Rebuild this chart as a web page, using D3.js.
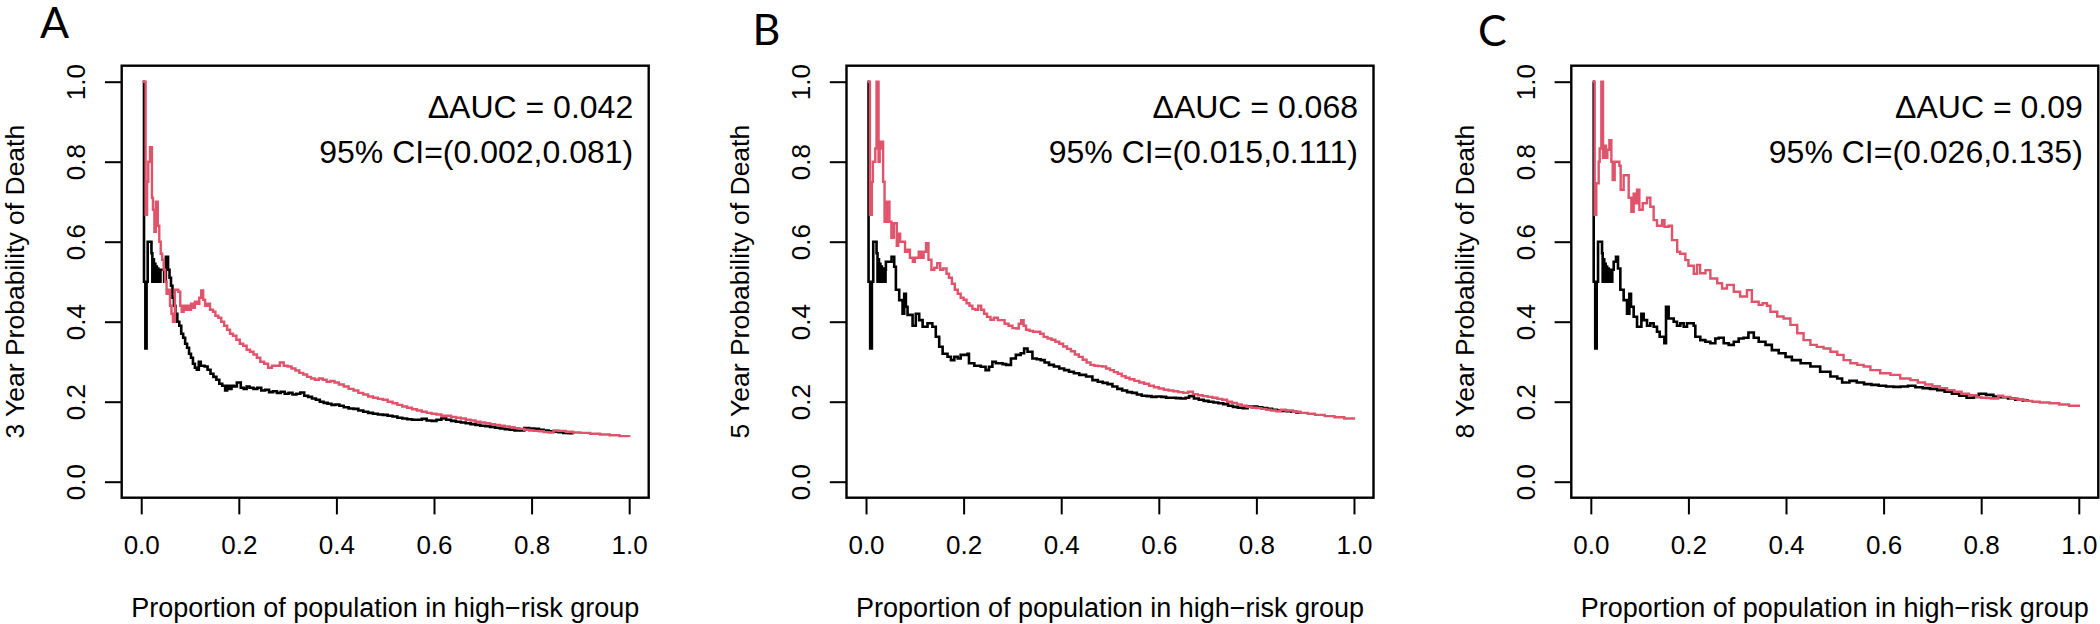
<!DOCTYPE html>
<html><head><meta charset="utf-8">
<script src="https://cdn.jsdelivr.net/npm/d3@7"></script>
<style>body{margin:0;background:#fff} svg{display:block}</style>
</head><body>
<svg id="c" width="2100" height="624"></svg>
<script>
// ---------- data ----------
const panelLetters = ["A", "B", "C"];
const yTitles = ["3 Year Probability of Death", "5 Year Probability of Death", "8 Year Probability of Death"];
const xTitle = "Proportion of population in high\u2212risk group";
const deltaAUC = ["0.042", "0.068", "0.09"];
const ciTexts = ["95% CI=(0.002,0.081)", "95% CI=(0.015,0.111)", "95% CI=(0.026,0.135)"];
const xTicks = [0, 0.2, 0.4, 0.6, 0.8, 1.0];
const yTicks = [0, 0.2, 0.4, 0.6, 0.8, 1.0];

const blackA = [[0.003,1.0],[0.0057,0.5],[0.0085,0.333],[0.011,0.5],[0.0133,0.6],[0.021,0.571],[0.0228,0.5],[0.0245,0.556],[0.026,0.5],[0.0275,0.545],[0.029,0.5],[0.0305,0.538],[0.032,0.5],[0.0335,0.533],[0.035,0.5],[0.0365,0.53],[0.038,0.5],[0.0395,0.53],[0.047,0.5],[0.0505,0.5625],[0.055,0.53],[0.058,0.51],[0.061,0.49],[0.064,0.46],[0.067,0.44],[0.070,0.42],[0.074,0.40],[0.078,0.39],[0.082,0.37],[0.086,0.36],[0.090,0.345],[0.094,0.335],[0.098,0.32],[0.102,0.31],[0.106,0.295],[0.110,0.285],[0.114,0.28],[0.118,0.30],[0.122,0.29],[0.130,0.288],[0.136,0.28],[0.142,0.27],[0.148,0.262],[0.154,0.255],[0.160,0.245],[0.166,0.24],[0.172,0.228],[0.176,0.24],[0.180,0.232],[0.185,0.24],[0.190,0.238],[0.196,0.248],[0.204,0.235],[0.210,0.232],[0.216,0.238],[0.222,0.235],[0.230,0.232],[0.238,0.235],[0.246,0.228],[0.254,0.23],[0.262,0.224],[0.270,0.226],[0.278,0.222],[0.286,0.225],[0.294,0.22],[0.302,0.222],[0.310,0.218],[0.318,0.22],[0.326,0.223],[0.334,0.215],[0.342,0.212],[0.350,0.208],[0.358,0.205],[0.366,0.2],[0.374,0.197],[0.382,0.195],[0.390,0.192],[0.398,0.193],[0.406,0.19],[0.415,0.186],[0.425,0.183],[0.435,0.182],[0.445,0.178],[0.455,0.175],[0.465,0.172],[0.475,0.17],[0.485,0.168],[0.495,0.167],[0.505,0.165],[0.515,0.163],[0.525,0.16],[0.535,0.158],[0.545,0.156],[0.555,0.155],[0.565,0.155],[0.575,0.157],[0.585,0.153],[0.595,0.152],[0.605,0.155],[0.615,0.158],[0.625,0.155],[0.635,0.152],[0.645,0.15],[0.655,0.148],[0.665,0.146],[0.675,0.144],[0.685,0.142],[0.695,0.14],[0.705,0.139],[0.715,0.137],[0.725,0.135],[0.735,0.133],[0.745,0.131],[0.755,0.13],[0.765,0.128],[0.775,0.128],[0.785,0.134],[0.795,0.133],[0.805,0.132],[0.815,0.13],[0.825,0.128],[0.835,0.126],[0.845,0.125],[0.855,0.124],[0.865,0.122],[0.875,0.121],[0.886,0.12]];
const redA = [[0.003,1.0],[0.009,0.667],[0.012,0.75],[0.0145,0.80],[0.018,0.836],[0.022,0.71],[0.024,0.68],[0.027,0.625],[0.030,0.70],[0.034,0.64],[0.037,0.60],[0.040,0.57],[0.043,0.555],[0.046,0.53],[0.049,0.50],[0.052,0.47],[0.056,0.48],[0.059,0.44],[0.062,0.42],[0.065,0.40],[0.069,0.48],[0.076,0.475],[0.080,0.44],[0.083,0.425],[0.087,0.44],[0.090,0.43],[0.094,0.44],[0.098,0.43],[0.102,0.445],[0.106,0.435],[0.110,0.45],[0.115,0.445],[0.119,0.46],[0.123,0.478],[0.127,0.455],[0.131,0.44],[0.136,0.445],[0.141,0.43],[0.147,0.425],[0.152,0.415],[0.158,0.41],[0.164,0.40],[0.170,0.39],[0.176,0.38],[0.182,0.37],[0.188,0.365],[0.195,0.355],[0.202,0.345],[0.209,0.34],[0.216,0.33],[0.223,0.325],[0.230,0.318],[0.237,0.31],[0.244,0.30],[0.252,0.295],[0.260,0.285],[0.268,0.29],[0.276,0.29],[0.284,0.298],[0.292,0.29],[0.300,0.288],[0.308,0.283],[0.316,0.278],[0.324,0.272],[0.332,0.268],[0.340,0.262],[0.348,0.258],[0.356,0.255],[0.364,0.258],[0.372,0.255],[0.380,0.25],[0.388,0.252],[0.396,0.248],[0.405,0.243],[0.415,0.238],[0.425,0.232],[0.435,0.228],[0.445,0.222],[0.455,0.218],[0.465,0.213],[0.475,0.21],[0.485,0.207],[0.495,0.205],[0.505,0.2],[0.515,0.196],[0.525,0.192],[0.535,0.188],[0.545,0.185],[0.555,0.181],[0.565,0.178],[0.575,0.175],[0.585,0.172],[0.595,0.17],[0.605,0.168],[0.615,0.165],[0.625,0.165],[0.635,0.162],[0.645,0.16],[0.655,0.158],[0.665,0.155],[0.675,0.153],[0.685,0.15],[0.695,0.148],[0.705,0.146],[0.715,0.144],[0.725,0.142],[0.735,0.14],[0.745,0.138],[0.755,0.136],[0.765,0.134],[0.775,0.132],[0.785,0.13],[0.795,0.128],[0.805,0.127],[0.815,0.126],[0.825,0.124],[0.835,0.123],[0.845,0.128],[0.855,0.127],[0.87,0.125],[0.885,0.123],[0.9,0.122],[0.92,0.12],[0.94,0.118],[0.96,0.116],[0.98,0.114],[1.0,0.112]];

const blackB = [[0.003,1.0],[0.0052,0.5],[0.0085,0.333],[0.012,0.5],[0.0148,0.6],[0.0216,0.571],[0.0236,0.5],[0.025,0.556],[0.0265,0.5],[0.028,0.545],[0.0295,0.5],[0.031,0.538],[0.0325,0.5],[0.034,0.533],[0.0355,0.5],[0.037,0.53],[0.0385,0.5],[0.040,0.53],[0.0407,0.55],[0.0523,0.5625],[0.0578,0.5375],[0.0612,0.48],[0.068,0.454],[0.0749,0.42],[0.0783,0.47],[0.0817,0.4375],[0.0851,0.417],[0.0954,0.39],[0.102,0.42],[0.109,0.404],[0.116,0.3875],[0.126,0.396],[0.136,0.3875],[0.143,0.3625],[0.150,0.3375],[0.157,0.32],[0.167,0.3125],[0.174,0.304],[0.181,0.3125],[0.188,0.308],[0.194,0.317],[0.208,0.32],[0.211,0.296],[0.222,0.29],[0.235,0.2875],[0.245,0.279],[0.252,0.2875],[0.259,0.3],[0.266,0.296],[0.273,0.296],[0.280,0.294],[0.287,0.292],[0.297,0.308],[0.307,0.317],[0.317,0.321],[0.324,0.333],[0.331,0.325],[0.341,0.308],[0.350,0.306],[0.358,0.304],[0.366,0.298],[0.375,0.292],[0.385,0.288],[0.396,0.283],[0.406,0.279],[0.416,0.275],[0.426,0.271],[0.437,0.267],[0.451,0.263],[0.464,0.254],[0.475,0.25],[0.485,0.247],[0.495,0.244],[0.505,0.238],[0.515,0.232],[0.525,0.228],[0.535,0.224],[0.545,0.222],[0.555,0.218],[0.565,0.215],[0.575,0.214],[0.585,0.212],[0.595,0.213],[0.605,0.212],[0.615,0.21],[0.625,0.21],[0.635,0.209],[0.645,0.208],[0.655,0.21],[0.662,0.214],[0.672,0.208],[0.682,0.205],[0.692,0.202],[0.702,0.2],[0.712,0.198],[0.722,0.196],[0.732,0.194],[0.742,0.19],[0.752,0.187],[0.762,0.185],[0.772,0.184],[0.782,0.188],[0.792,0.188],[0.802,0.186],[0.812,0.184],[0.822,0.182],[0.832,0.18],[0.842,0.178],[0.852,0.177],[0.862,0.176],[0.872,0.175],[0.882,0.173],[0.89,0.172]];
const redB = [[0.003,1.0],[0.008,0.667],[0.012,0.75],[0.014,0.8],[0.019,0.833],[0.0216,1.0],[0.0257,0.8],[0.028,0.833],[0.0305,0.85],[0.035,0.75],[0.038,0.65],[0.043,0.70],[0.048,0.65],[0.052,0.61],[0.057,0.646],[0.063,0.59],[0.066,0.62],[0.070,0.60],[0.076,0.60],[0.080,0.575],[0.085,0.58],[0.090,0.56],[0.096,0.55],[0.100,0.56],[0.108,0.575],[0.113,0.56],[0.118,0.575],[0.123,0.596],[0.128,0.555],[0.134,0.53],[0.140,0.535],[0.146,0.546],[0.152,0.53],[0.158,0.533],[0.165,0.52],[0.170,0.51],[0.176,0.495],[0.182,0.48],[0.188,0.47],[0.194,0.46],[0.200,0.455],[0.206,0.446],[0.212,0.44],[0.218,0.432],[0.224,0.43],[0.230,0.44],[0.236,0.43],[0.242,0.42],[0.248,0.412],[0.255,0.405],[0.262,0.41],[0.270,0.404],[0.277,0.404],[0.284,0.395],[0.292,0.39],[0.300,0.384],[0.308,0.383],[0.313,0.395],[0.318,0.404],[0.323,0.39],[0.328,0.38],[0.335,0.377],[0.342,0.375],[0.350,0.375],[0.357,0.37],[0.364,0.362],[0.372,0.358],[0.380,0.355],[0.388,0.35],[0.396,0.345],[0.404,0.338],[0.412,0.332],[0.420,0.326],[0.428,0.318],[0.436,0.312],[0.444,0.305],[0.452,0.298],[0.460,0.292],[0.468,0.29],[0.476,0.289],[0.484,0.288],[0.492,0.283],[0.500,0.279],[0.508,0.274],[0.516,0.27],[0.524,0.264],[0.532,0.26],[0.540,0.256],[0.550,0.252],[0.560,0.248],[0.570,0.245],[0.580,0.24],[0.590,0.236],[0.600,0.233],[0.610,0.23],[0.620,0.228],[0.630,0.226],[0.640,0.224],[0.650,0.222],[0.660,0.225],[0.670,0.219],[0.680,0.216],[0.690,0.214],[0.700,0.212],[0.710,0.21],[0.720,0.207],[0.730,0.205],[0.740,0.2],[0.750,0.197],[0.760,0.193],[0.770,0.19],[0.780,0.187],[0.790,0.185],[0.800,0.184],[0.810,0.182],[0.820,0.18],[0.830,0.178],[0.840,0.176],[0.850,0.18],[0.860,0.178],[0.875,0.175],[0.890,0.172],[0.905,0.17],[0.920,0.167],[0.940,0.164],[0.960,0.161],[0.980,0.158],[1.0,0.155]];

const blackC = [[0.0038,1.0],[0.0059,0.5],[0.009,0.333],[0.012,0.5],[0.0148,0.6],[0.023,0.571],[0.0243,0.5],[0.026,0.556],[0.0275,0.5],[0.029,0.545],[0.0305,0.5],[0.032,0.538],[0.0335,0.5],[0.035,0.533],[0.0365,0.5],[0.038,0.53],[0.0395,0.5],[0.041,0.53],[0.0425,0.5],[0.044,0.53],[0.0469,0.55],[0.0516,0.5625],[0.0557,0.533],[0.0605,0.48],[0.0673,0.454],[0.0742,0.42],[0.079,0.47],[0.0824,0.4375],[0.0878,0.4125],[0.0947,0.3875],[0.1036,0.42],[0.1083,0.404],[0.1152,0.39],[0.122,0.396],[0.1288,0.3875],[0.1356,0.375],[0.1411,0.3625],[0.1507,0.346],[0.1541,0.4375],[0.1595,0.408],[0.1698,0.4],[0.1766,0.39],[0.1834,0.396],[0.1903,0.3875],[0.1971,0.396],[0.2108,0.39],[0.2142,0.3625],[0.2244,0.354],[0.2347,0.35],[0.245,0.346],[0.2552,0.358],[0.2621,0.36],[0.2723,0.346],[0.2825,0.342],[0.293,0.35],[0.303,0.358],[0.313,0.36],[0.323,0.373],[0.334,0.36],[0.344,0.35],[0.358,0.342],[0.371,0.329],[0.385,0.321],[0.399,0.312],[0.412,0.304],[0.43,0.296],[0.45,0.288],[0.47,0.275],[0.491,0.263],[0.505,0.258],[0.515,0.248],[0.53,0.252],[0.545,0.248],[0.56,0.244],[0.575,0.242],[0.59,0.24],[0.605,0.238],[0.62,0.237],[0.635,0.238],[0.65,0.24],[0.665,0.236],[0.68,0.234],[0.695,0.232],[0.71,0.229],[0.725,0.225],[0.74,0.22],[0.755,0.215],[0.77,0.21],[0.785,0.212],[0.795,0.22],[0.81,0.217],[0.825,0.213],[0.84,0.211],[0.855,0.208],[0.87,0.205],[0.885,0.203],[0.895,0.202]];
const redC = [[0.0038,1.0],[0.0079,0.667],[0.0113,0.746],[0.0161,0.8],[0.0182,0.833],[0.0216,1.0],[0.025,0.81],[0.0284,0.84],[0.0311,0.81],[0.0339,0.83],[0.038,0.854],[0.0421,0.8],[0.0448,0.754],[0.0489,0.8],[0.0585,0.79],[0.0612,0.73],[0.0673,0.766],[0.0776,0.71],[0.0831,0.675],[0.0878,0.72],[0.0913,0.696],[0.0947,0.73],[0.0995,0.68],[0.1063,0.696],[0.1152,0.71],[0.122,0.6875],[0.1288,0.654],[0.1356,0.64],[0.146,0.654],[0.151,0.6375],[0.1595,0.64],[0.1664,0.604],[0.177,0.575],[0.183,0.57],[0.1937,0.554],[0.2,0.54],[0.211,0.52],[0.2176,0.542],[0.224,0.521],[0.235,0.529],[0.245,0.508],[0.259,0.496],[0.269,0.483],[0.279,0.492],[0.293,0.475],[0.306,0.463],[0.320,0.479],[0.330,0.45],[0.344,0.442],[0.352,0.446],[0.361,0.44],[0.368,0.425],[0.382,0.413],[0.395,0.408],[0.409,0.392],[0.423,0.371],[0.436,0.354],[0.45,0.342],[0.463,0.337],[0.477,0.333],[0.491,0.325],[0.505,0.317],[0.518,0.304],[0.532,0.296],[0.546,0.292],[0.559,0.288],[0.573,0.279],[0.593,0.271],[0.614,0.267],[0.634,0.258],[0.655,0.254],[0.67,0.248],[0.685,0.243],[0.70,0.239],[0.715,0.234],[0.73,0.229],[0.745,0.225],[0.76,0.22],[0.775,0.216],[0.79,0.212],[0.80,0.21],[0.81,0.209],[0.82,0.208],[0.835,0.215],[0.845,0.212],[0.86,0.208],[0.875,0.205],[0.89,0.202],[0.905,0.2],[0.92,0.198],[0.94,0.196],[0.96,0.193],[0.98,0.19],[1.0,0.187]];

const blackSeries = [blackA, blackB, blackC];
const redSeries = [redA, redB, redC];

// ---------- layout ----------
const FONT = "'Liberation Sans', Arial, Helvetica, sans-serif";
const RED = "#DF536B";
const boxLefts = [121.7, 846.5, 1571.3];
const boxW = 527, boxTop = 65.7, boxBottom = 497.7;
const letterPos = [[40, 38], [752.5, 45], [1478, 46]];

const svg = d3.select("#c");

boxLefts.forEach((L, i) => {
  const x = d3.scaleLinear().domain([-0.04, 1.04]).range([L, L + boxW]);
  const y = d3.scaleLinear().domain([-0.04, 1.04]).range([boxBottom, boxTop]);
  const g = svg.append("g");

  // x axis
  const gx = g.append("g").attr("transform", `translate(0,${boxBottom})`)
    .call(d3.axisBottom(x).tickValues(xTicks).tickSize(16.7).tickFormat(d3.format(".1f")));
  gx.select(".domain").remove();
  gx.selectAll(".tick line").attr("stroke", "#000").attr("stroke-width", 2);
  gx.selectAll(".tick text").attr("y", 56.6).attr("dy", null)
    .attr("font-family", FONT).attr("font-size", 26).attr("fill", "#000");

  // y axis
  const gy = g.append("g").attr("transform", `translate(${L},0)`)
    .call(d3.axisLeft(y).tickValues(yTicks).tickSize(16.7).tickFormat(d3.format(".1f")));
  gy.select(".domain").remove();
  gy.selectAll(".tick line").attr("stroke", "#000").attr("stroke-width", 2);
  gy.selectAll(".tick text").attr("x", null).attr("dy", null)
    .attr("text-anchor", "middle")
    .attr("transform", "translate(-36.7,0) rotate(-90)")
    .attr("font-family", FONT).attr("font-size", 26).attr("fill", "#000");

  // curves
  const line = d3.line().x(d => x(d[0])).y(d => y(d[1])).curve(d3.curveStepAfter);
  g.append("path").datum(blackSeries[i]).attr("d", line)
    .attr("fill", "none").attr("stroke", "#000").attr("stroke-width", 2.6);
  g.append("path").datum(redSeries[i]).attr("d", line)
    .attr("fill", "none").attr("stroke", RED).attr("stroke-width", 2.4);

  // box
  g.append("rect").attr("x", L).attr("y", boxTop).attr("width", boxW).attr("height", boxBottom - boxTop)
    .attr("fill", "none").attr("stroke", "#000").attr("stroke-width", 2.4);

  // titles
  g.append("text").attr("x", (L + L + boxW) / 2).attr("y", 617)
    .attr("text-anchor", "middle").attr("font-family", FONT).attr("font-size", 27).attr("fill", "#000")
    .text(xTitle);
  g.append("text").attr("transform", `translate(${L - 97.5},${(boxTop + boxBottom) / 2}) rotate(-90)`)
    .attr("text-anchor", "middle").attr("font-family", FONT).attr("font-size", 26.5).attr("fill", "#000")
    .text(yTitles[i]);

  // annotations
  const t1 = g.append("text").attr("x", L + boxW - 15.5).attr("y", 118)
    .attr("text-anchor", "end").attr("font-family", FONT).attr("font-size", 32).attr("fill", "#000");
  t1.append("tspan").text("\u0394AUC");
  t1.append("tspan").text(" = ");
  t1.append("tspan").text(deltaAUC[i]);
  g.append("text").attr("x", L + boxW - 15.5).attr("y", 162.5)
    .attr("text-anchor", "end").attr("font-family", FONT).attr("font-size", 32).attr("fill", "#000")
    .text(ciTexts[i]);

  // panel letter
  g.append("text").attr("x", letterPos[i][0]).attr("y", letterPos[i][1])
    .attr("font-family", "Lato, 'Open Sans', sans-serif").attr("font-size", 43).attr("fill", "#000")
    .text(panelLetters[i]);
});
</script>
</body></html>
